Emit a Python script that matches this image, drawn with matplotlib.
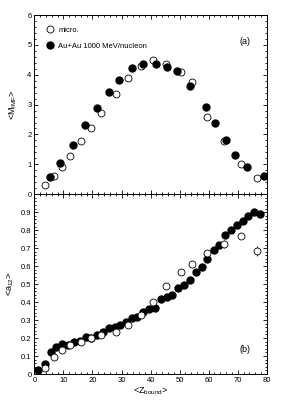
import numpy as np
import matplotlib.pyplot as plt
from matplotlib.ticker import MultipleLocator, AutoMinorLocator

plt.rcParams['font.family'] = ['Liberation Sans', 'DejaVu Sans']

# panel (a): <M_IMF> vs <Z_bound>
micro_z = [3.6, 6.7, 9.4, 12.2, 15.9, 19.4, 22.9, 28.1, 32.3, 36.6, 41.0, 45.3,
           50.4, 54.2, 59.6, 65.4, 71.3, 76.7]
micro_m = [0.29, 0.62, 0.90, 1.28, 1.77, 2.21, 2.72, 3.37, 3.89, 4.28, 4.48, 4.37,
           4.08, 3.76, 2.58, 1.77, 1.02, 0.55]

auau_z = [5.3, 8.9, 13.4, 17.5, 21.6, 25.7, 29.0, 33.7, 37.5, 42.0, 45.8, 49.1,
          53.7, 59.0, 62.2, 66.1, 69.1, 73.2, 79.2]
auau_m = [0.56, 1.04, 1.65, 2.30, 2.88, 3.41, 3.82, 4.23, 4.37, 4.36, 4.27, 4.13,
          3.62, 2.92, 2.40, 1.80, 1.31, 0.91, 0.60]

# panel (b): <a_12> vs <Z_bound>
micro_a = [0.032, 0.093, 0.132, 0.16, 0.18, 0.20, 0.215, 0.235, 0.274, 0.33, 0.399,
           0.491, 0.566, 0.612, 0.672, 0.723, 0.766, 0.684]
micro_aerr = [0, 0, 0, 0, 0, 0, 0, 0, 0, 0, 0, 0, 0, 0, 0, 0.02, 0, 0.03]

auau_bz = [1.4, 3.5, 5.6, 7.6, 9.5, 11.7, 13.5, 15.7, 17.6, 19.5, 21.7, 23.5, 25.6,
           27.7, 29.6, 31.6, 33.5, 35.4, 37.5, 39.6, 41.6, 43.6, 45.6, 47.5, 49.6,
           51.6, 53.6, 55.6, 57.7, 59.6, 61.7, 63.6, 65.7, 67.7, 69.7, 71.7, 73.7,
           75.7, 77.7]
auau_a = [0.022, 0.056, 0.122, 0.149, 0.167, 0.161, 0.176, 0.185, 0.206, 0.199,
          0.215, 0.235, 0.258, 0.262, 0.271, 0.291, 0.310, 0.319, 0.345, 0.363,
          0.366, 0.417, 0.427, 0.438, 0.477, 0.497, 0.523, 0.566, 0.597, 0.638,
          0.690, 0.718, 0.774, 0.801, 0.827, 0.848, 0.879, 0.898, 0.892]

fs = 5.5
fig = plt.figure(figsize=(2.89, 4.07), dpi=100)
ax1 = fig.add_axes([0.119, 0.523, 0.804, 0.440])
ax2 = fig.add_axes([0.119, 0.081, 0.804, 0.442])

ax1.plot(micro_z, micro_m, 'o', mfc='white', mec='black', mew=0.6, ms=5, label='micro.')
ax1.plot(auau_z, auau_m, 'o', color='black', ms=5, label='Au+Au 1000 MeV/nucleon')
ax1.set_xlim(0, 80)
ax1.set_ylim(0, 6)
ax1.set_ylabel('<M$_{\\mathregular{IMF}}$>', fontsize=fs + 1, labelpad=6)
ax1.tick_params(labelbottom=False)
ax1.text(0.93, 0.84, '(a)', transform=ax1.transAxes, fontsize=fs + 1, ha='right')
ax1.legend(loc='upper left', fontsize=fs, frameon=False, handletextpad=0.6,
           borderaxespad=1.1, labelspacing=1.1, handlelength=1.0)

ax2.errorbar(micro_z, micro_a, yerr=micro_aerr, fmt='o', mfc='white', mec='black',
             mew=0.6, ms=5, ecolor='black', elinewidth=0.6, capsize=0)
ax2.plot(auau_bz, auau_a, 'o', color='black', ms=5)
ax2.set_xlim(0, 80)
ax2.set_ylim(0, 1)
ax2.set_yticks(np.arange(0, 1.0, 0.1))
ax2.set_yticklabels(['0'] + ['%.1f' % v for v in np.arange(0.1, 0.95, 0.1)])
ax2.set_ylabel('<a$_{\\mathregular{12}}$>', fontsize=fs + 1)
ax2.set_xlabel('<Z$_{\\mathregular{bound}}$>', fontsize=fs + 1, labelpad=1)
ax2.text(0.93, 0.12, '(b)', transform=ax2.transAxes, fontsize=fs + 1, ha='right')

for ax in (ax1, ax2):
    ax.xaxis.set_major_locator(MultipleLocator(10))
    ax.xaxis.set_minor_locator(AutoMinorLocator(5))
    ax.yaxis.set_minor_locator(AutoMinorLocator(5))
    ax.tick_params(which='both', direction='in', top=True, right=True,
                   labelsize=fs, width=0.6, pad=2)
    ax.tick_params(which='major', length=3)
    ax.tick_params(which='minor', length=1.5)
    for s in ax.spines.values():
        s.set_linewidth(0.7)

ax1.set_yticks(range(0, 7))
ax1.set_yticklabels([str(v) for v in range(0, 7)])

fig.savefig('out.png', dpi=100)
